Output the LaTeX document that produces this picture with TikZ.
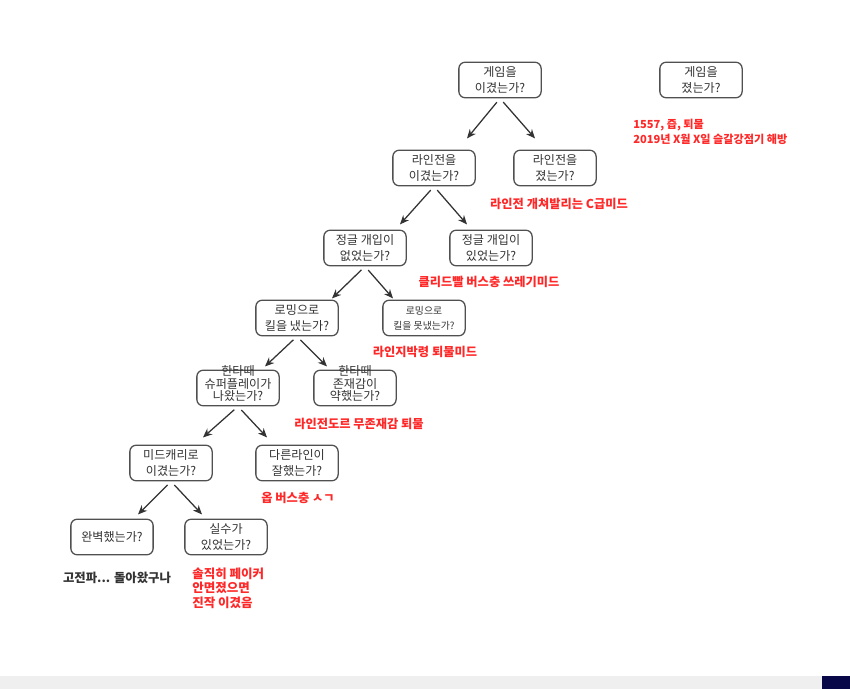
\documentclass[tikz,border=0pt]{standalone}
\usepackage{fontspec}
\setmainfont{Noto Sans CJK KR}
\usetikzlibrary{arrows.meta,positioning,calc}
\definecolor{TRink}{RGB}{51,51,51}
\definecolor{TRedge}{RGB}{80,80,80}
\definecolor{TRred}{RGB}{255,40,40}
\definecolor{TRbar}{RGB}{239,239,239}
\definecolor{TRnavy}{RGB}{8,8,72}
\tikzset{
  ask/.style={rounded corners=4.5pt,draw=TRedge,line width=0.9pt,fill=white,
              text=TRink,align=center,inner sep=1pt,minimum width=58.5pt,
              minimum height=25.3pt,font=\fontsize{8.6}{11.3}\selectfont},
  verdict/.style={text=TRred,align=center,inner sep=0pt,
                  font=\fontsize{8.7}{10.3}\selectfont\bfseries},
  fl/.style={-{Stealth[length=6.5pt,width=5.5pt]},line width=0.9pt,draw=TRink,
             shorten <=3.5pt},
}
\begin{document}
\begin{tikzpicture}[x=0.025cm,y=-0.025cm]
    \useasboundingbox (0,0) rectangle (850,689);
    \fill[TRbar] (0,676) rectangle (850,689);
    \fill[TRnavy] (822,676) rectangle (850,689);

    % questions
    \node[ask] (win) at (500,80) {게임을\\이겼는가?};
    \node[ask] (lose) at (701,80) {게임을\\졌는가?};
    \node[ask] (lane) at (434,168) {라인전을\\이겼는가?};
    \node[ask] (lanelose) at (555,168) {라인전을\\졌는가?};
    \node[ask] (nojg) at (365,248) {정글 개입이\\없었는가?};
    \node[ask] (jg) at (491,248) {정글 개입이\\있었는가?};
    \node[ask] (roam) at (297,318) {로밍으로\\킬을 냈는가?};
    \node[ask,font=\fontsize{7}{10.5}\selectfont] (noroam) at (424,318) {로밍으로\\킬을 못냈는가?};
    \node[ask] (super) at (238,388) {\smash{\begin{tabular}{@{}c@{}}한타때\\[-2.4pt]슈퍼플레이가\\[-2.4pt]나왔는가?\end{tabular}}};
    \node[ask] (weak) at (355,388) {\smash{\begin{tabular}{@{}c@{}}한타때\\[-2.4pt]존재감이\\[-2.4pt]약했는가?\end{tabular}}};
    \node[ask] (carry) at (171,463) {미드캐리로\\이겼는가?};
    \node[ask] (other) at (297,463) {다른라인이\\잘했는가?};
    \node[ask] (perfect) at (112,537) {완벽했는가?};
    \node[ask] (mistake) at (226,537) {실수가\\있었는가?};

    % answers
    \node[verdict,anchor=west,align=left,font=\fontsize{7.9}{10.5}\selectfont\bfseries] (loseN) at (633,132) {1557, 즙, 퇴물\\2019년 X월 X일 슬갈강점기 해방};
    \node[verdict] (laneloseN) at (559,204) {라인전 개쳐발리는 C급미드};
    \node[verdict] (jgN) at (489,282) {클리드빨 버스충 쓰레기미드};
    \node[verdict] (noroamN) at (425,352) {라인지박령 퇴물미드};
    \node[verdict] (weakN) at (359,424) {라인전도르 무존재감 퇴물};
    \node[verdict] (otherN) at (298,498) {옵 버스충 ㅅㄱ};
    \node[verdict,text=TRink,font=\fontsize{8.8}{10}\selectfont\bfseries] (perfectN) at (117,578) {고전파... 돌아왔구나};
    \node[verdict,anchor=west,align=left,font=\fontsize{8.9}{10.2}\selectfont\bfseries] (mistakeN) at (192,588) {솔직히 페이커\\안면졌으면\\진작 이겼음};

    % branches
    \foreach \p/\dl/\dr/\dy in {win/-33/35/40,lane/-34/33/38,nojg/-33/28/32,
                                roam/-32/30/30,super/-35/29/31,carry/-33/31/33}{
      \path (\p.south) ++(\dl,\dy) coordinate (\p-l);
      \path (\p.south) ++(\dr,\dy) coordinate (\p-r);
      \draw[fl] (\p.south) -- (\p-l);
      \draw[fl] (\p.south) -- (\p-r);
    }
\end{tikzpicture}
\end{document}
